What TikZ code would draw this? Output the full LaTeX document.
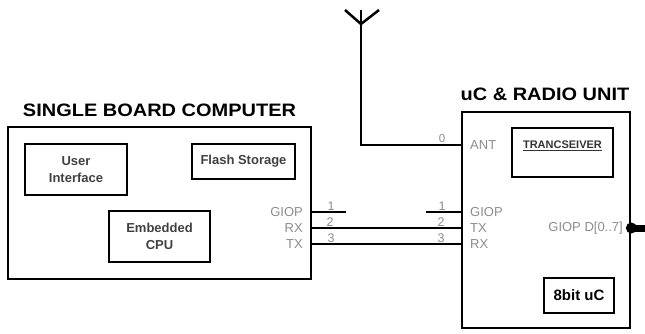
\documentclass[tikz,border=0pt]{standalone}
\usepackage{fontspec}
\setmainfont{Liberation Sans}
\newfontfamily\widefont[FakeStretch=1.11]{Liberation Sans}
\usetikzlibrary{positioning, calc}

\begin{document}
\begin{tikzpicture}[x=1pt, y=-1pt,
    unit/.style={draw, line width=2.7pt, inner sep=0pt},
    part/.style={draw, line width=2.3pt, align=center, inner sep=0pt,
                 font=\fontsize{13}{17.5}\selectfont\bfseries, text=black!75},
    title/.style={inner sep=0pt, font=\widefont\fontsize{18}{20}\selectfont\bfseries},
    pin/.style={inner sep=0pt, font=\fontsize{13}{15}\selectfont, text=black!45},
    num/.style={inner sep=0pt, anchor=south, font=\fontsize{12.5}{13}\selectfont, text=black!45},
    wire/.style={line width=2.5pt},
    bus/.style={line width=7pt}
  ]
  \useasboundingbox (0,0) rectangle (645,333);

  % the two units
  \node[unit, minimum width=303pt, minimum height=152pt] (sbc) at (159.5,203) {};
  \node[unit, minimum width=168pt, minimum height=216pt] (uc)  at (546,220) {};
  \node[title, above=9pt of sbc] (sbcT) {SINGLE BOARD COMPUTER};
  \node[title, above=10pt of uc, xshift=-1pt] (ucT) {uC \& RADIO UNIT};

  % parts of the board computer
  \node[part, minimum width=102pt, minimum height=51pt] (ui)    at (76,169.5)    {User\\Interface};
  \node[part, minimum width=103pt, minimum height=35pt] (flash) at (243.5,161.5) {Flash Storage};
  \node[part, minimum width=101pt, minimum height=51pt] (cpu)   at (159.5,236.5) {Embedded\\CPU};

  % parts of the radio unit
  \node[part, minimum width=101pt, minimum height=49pt] (trx) at (562.5,152.5) {};
  \node[inner sep=0pt, below=13.5pt of trx.north, text=black!80,
        font=\fontsize{11}{12}\selectfont\bfseries] (trxT) {\underline{TRANCSEIVER}};
  \node[part, minimum width=70pt, minimum height=35pt, text=black,
        font=\fontsize{15}{17}\selectfont\bfseries] (mcu) at (579,295.5) {8bit uC};

  % pin names
  \node[pin, anchor=east] (sgiop) at (303,212) {GIOP};
  \node[pin, anchor=east] (srx)   at (303,228) {RX};
  \node[pin, anchor=east] (stx)   at (303,244) {TX};
  \node[pin, anchor=west] (uant)  at (470,145) {ANT};
  \node[pin, anchor=west] (ugiop) at (470,212) {GIOP};
  \node[pin, anchor=west] (utx)   at (470,228) {TX};
  \node[pin, anchor=west] (urx)   at (470,244) {RX};
  \node[pin, anchor=east] (dbus)  at (623,228) {GIOP D[0..7]};

  % antenna
  \coordinate (antfoot) at (361,145);
  \coordinate (antjoin) at (361,24);
  \coordinate (anttop)  at (361,10);
  \coordinate (antL)    at (345,10);
  \coordinate (antR)    at (379,10);
  \draw[wire] (uc.west |- uant) -- (antfoot) -- (anttop);
  \draw[wire] (antL) -- (antjoin) -- (antR);
  \node[num, font=\fontsize{11.5}{12}\selectfont] (n0) at (442,143) {0};

  % wires between the units
  \draw[wire] (sbc.east |- sgiop) -- ++(34,0) coordinate (s1end);
  \draw[wire] (uc.west |- ugiop) -- ++(-35,0) coordinate (u1end);
  \draw[wire] (sbc.east |- srx) -- (uc.west |- utx);
  \draw[wire] (sbc.east |- stx) -- (uc.west |- urx);
  \node[num] (sn1) at (331,210.5) {1};
  \node[num] (sn2) at (330,226.5) {2};
  \node[num] (sn3) at (331,242.5) {3};
  \node[num] (un1) at (442,210.5) {1};
  \node[num] (un2) at (441,226.5) {2};
  \node[num] (un3) at (441,242.5) {3};

  % data bus
  \coordinate (busend) at (645,228);
  \draw[bus] (uc.east |- dbus) -- (busend);
  \fill (uc.east |- dbus) circle (5.5);
\end{tikzpicture}
\end{document}
